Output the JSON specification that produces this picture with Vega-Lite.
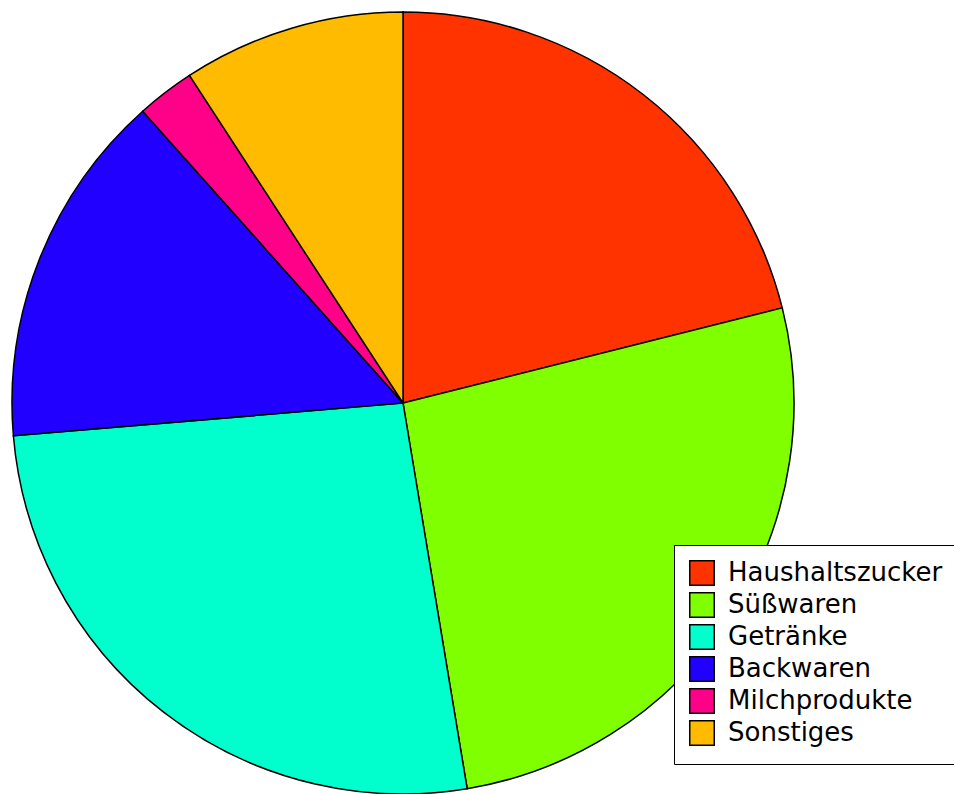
{
  "$schema": "https://vega.github.io/schema/vega-lite/v6.json",
  "width": 806,
  "height": 806,
  "padding": 0,
  "background": "white",
  "view": {"stroke": null},
  "data": {
    "values": [
      {"idx": 1, "Kategorie": "Haushaltszucker", "Anteil": 21.1},
      {"idx": 2, "Kategorie": "Süßwaren", "Anteil": 26.3},
      {"idx": 3, "Kategorie": "Getränke", "Anteil": 26.3},
      {"idx": 4, "Kategorie": "Backwaren", "Anteil": 14.75},
      {"idx": 5, "Kategorie": "Milchprodukte", "Anteil": 2.4},
      {"idx": 6, "Kategorie": "Sonstiges", "Anteil": 9.2}
    ]
  },
  "mark": {"type": "arc", "outerRadius": 391, "stroke": "black", "strokeWidth": 1.5},
  "encoding": {
    "theta": {"field": "Anteil", "type": "quantitative", "stack": true},
    "order": {"field": "idx", "type": "quantitative", "sort": "ascending"},
    "color": {
      "field": "Kategorie",
      "type": "nominal",
      "sort": ["Haushaltszucker", "Süßwaren", "Getränke", "Backwaren", "Milchprodukte", "Sonstiges"],
      "scale": {
        "domain": ["Haushaltszucker", "Süßwaren", "Getränke", "Backwaren", "Milchprodukte", "Sonstiges"],
        "range": ["#FF3300", "#80FF00", "#00FFCC", "#2200FF", "#FF0088", "#FFBB00"]
      },
      "legend": {
        "title": null,
        "orient": "none",
        "legendX": 674,
        "legendY": 545,
        "fillColor": "white",
        "strokeColor": "black",
        "padding": 15,
        "symbolType": "square",
        "symbolSize": 600,
        "symbolStrokeColor": "black",
        "symbolStrokeWidth": 1.5,
        "symbolOpacity": 1,
        "labelFont": "DejaVu Sans",
        "labelFontSize": 26,
        "labelColor": "black",
        "labelOffset": 13,
        "labelLimit": 400,
        "rowPadding": 0
      }
    }
  }
}
